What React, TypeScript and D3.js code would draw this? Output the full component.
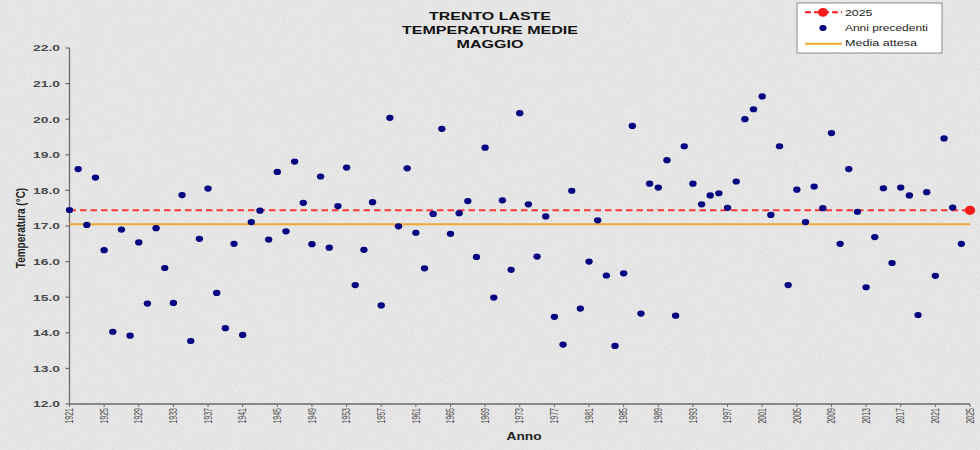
import React from "react";
import * as d3 from "d3";

const titleLines = ["TRENTO LASTE", "TEMPERATURE MEDIE", "MAGGIO"];
const startYear = 1921;
const endYear = 2025;
const pastValues = [
  17.45, 18.6, 17.03, 18.36, 16.32, 14.03, 16.9, 13.92, 16.54, 14.82,
  16.94, 15.82, 14.84, 17.87, 13.77, 16.64, 18.05, 15.12, 14.13, 16.5,
  13.94, 17.11, 17.43, 16.62, 18.52, 16.85, 18.81, 17.65, 16.49, 18.39,
  16.39, 17.56, 18.64, 15.34, 16.33, 17.67, 14.77, 20.04, 16.99, 18.62,
  16.81, 15.81, 17.34, 19.73, 16.78, 17.36, 17.7, 16.13, 19.2, 14.99,
  17.72, 15.77, 20.17, 17.61, 16.14, 17.27, 14.45, 13.67, 17.99, 14.68,
  16.0, 17.16, 15.61, 13.63, 15.67, 19.81, 14.54, 18.19, 18.08, 18.85,
  14.48, 19.24, 18.19, 17.61, 17.86, 17.92, 17.51, 18.25, 20.0, 20.28,
  20.64, 17.31, 19.24, 15.34, 18.02, 17.11, 18.11, 17.5, 19.61, 16.5,
  18.6, 17.4, 15.28, 16.69, 18.06, 15.96, 18.08, 17.86, 14.5, 17.95,
  15.6, 19.46, 17.52, 16.5,
];
const pastYears = d3.range(startYear, endYear);
const currentValue = 17.44;
const expectedMean = 17.05;
const yTicks = d3.range(12, 23, 1);
const xTickYears = d3.range(1921, 2026, 4);
const legendLabels = ["2025", "Anni precedenti", "Media attesa"];

const FONT = "'Liberation Sans', Arial, sans-serif";

export default function App() {
  const W = 980, H = 450;
  const x = d3.scaleLinear().domain([startYear, endYear]).range([69.5, 970]);
  const y = d3.scaleLinear().domain([12, 22]).range([404, 48]);
  const fmt = d3.format(".1f");
  const axisColor = "#6a6a6a";
  const navy = "#000080";
  const red = "#ff1a1a";
  const orange = "#f0a830";

  return (
    <svg width={W} height={H} style={{ position: "absolute", left: 0, top: 0, display: "block" }}>
      <defs>
        <filter id="noise" x="0" y="0" width="100%" height="100%">
          <feTurbulence type="fractalNoise" baseFrequency="0.9" numOctaves="2" seed="4" result="t" />
          <feColorMatrix type="saturate" values="0" />
        </filter>
      </defs>
      <rect x={0} y={0} width={W} height={H} fill="#ececec" />
      <rect x={0} y={0} width={W} height={H} filter="url(#noise)" opacity={0.28} />

      {/* Title */}
      {titleLines.map((t, i) => (
        <text key={t} x={490} y={19.5 + i * 14.4} textAnchor="middle" fontFamily={FONT}
          fontWeight="bold" fontSize={11} fill="#111"
          textLength={[122, 176, 67][i]} lengthAdjust="spacingAndGlyphs">{t}</text>
      ))}

      {/* Y axis */}
      <line x1={x(startYear)} x2={x(startYear)} y1={y(22)} y2={y(12)} stroke={axisColor} strokeWidth={1.3} />
      {yTicks.map((v) => (
        <g key={v}>
          <line x1={x(startYear) - 4} x2={x(startYear)} y1={y(v)} y2={y(v)} stroke={axisColor} strokeWidth={1.2} />
          <text x={60} y={y(v)} dy="0.35em" textAnchor="end" fontFamily={FONT} fontWeight="bold"
            fontSize={9.5} fill="#4a4a4a" textLength={27} lengthAdjust="spacingAndGlyphs">{fmt(v)}</text>
        </g>
      ))}
      <g transform={`translate(20,228) scale(1.35,1) rotate(-90)`}>
        <text x={0} y={0} dy="0.35em" textAnchor="middle" fontFamily={FONT} fontWeight="bold"
          fontSize={10} fill="#222">Temperatura (°C)</text>
      </g>

      {/* X axis */}
      <line x1={x(startYear)} x2={x(endYear)} y1={y(12)} y2={y(12)} stroke={axisColor} strokeWidth={1.3} />
      {xTickYears.map((yr) => (
        <g key={yr}>
          <line x1={x(yr)} x2={x(yr)} y1={y(12)} y2={y(12) + 3} stroke={axisColor} strokeWidth={1} />
          <g transform={`translate(${x(yr)},${y(12) + 4}) scale(1.5,1) rotate(-90)`}>
            <text x={0} y={0} dy="0.35em" textAnchor="end" fontFamily={FONT} fontSize={7} fill="#444">{yr}</text>
          </g>
        </g>
      ))}
      <text x={524} y={439.5} textAnchor="middle" fontFamily={FONT} fontWeight="bold" fontSize={10.5}
        fill="#222" textLength={35} lengthAdjust="spacingAndGlyphs">Anno</text>

      {/* Reference lines */}
      <line x1={x(startYear)} x2={x(endYear)} y1={y(expectedMean)} y2={y(expectedMean)} stroke={orange} strokeWidth={2} />
      <line x1={x(startYear)} x2={x(endYear)} y1={y(currentValue)} y2={y(currentValue)} stroke={red} strokeWidth={2}
        strokeDasharray="6.5 4" opacity={0.85} />

      {/* Points */}
      {pastValues.map((v, i) => (
        <ellipse key={i} cx={x(pastYears[i])} cy={y(v)} rx={3.7} ry={3.1} fill={navy} />
      ))}
      <ellipse cx={x(endYear)} cy={y(currentValue)} rx={5.2} ry={4.6} fill={red} />

      {/* Legend */}
      <rect x={797} y={3} width={145} height={50} fill="#fff" stroke="#8a8a8a" strokeWidth={1} />
      <line x1={805} x2={842} y1={12.3} y2={12.3} stroke={red} strokeWidth={2} strokeDasharray="6 3" />
      <ellipse cx={823} cy={12.3} rx={5} ry={4.4} fill={red} />
      <ellipse cx={823} cy={28} rx={3.6} ry={3} fill={navy} />
      <line x1={805} x2={842} y1={43.7} y2={43.7} stroke={orange} strokeWidth={2} />
      {legendLabels.map((t, i) => (
        <text key={t} x={845} y={15.5 + i * 15.2} fontFamily={FONT} fontSize={8.8} fill="#222"
          textLength={[27.5, 83, 72][i]} lengthAdjust="spacingAndGlyphs">{t}</text>
      ))}
    </svg>
  );
}
